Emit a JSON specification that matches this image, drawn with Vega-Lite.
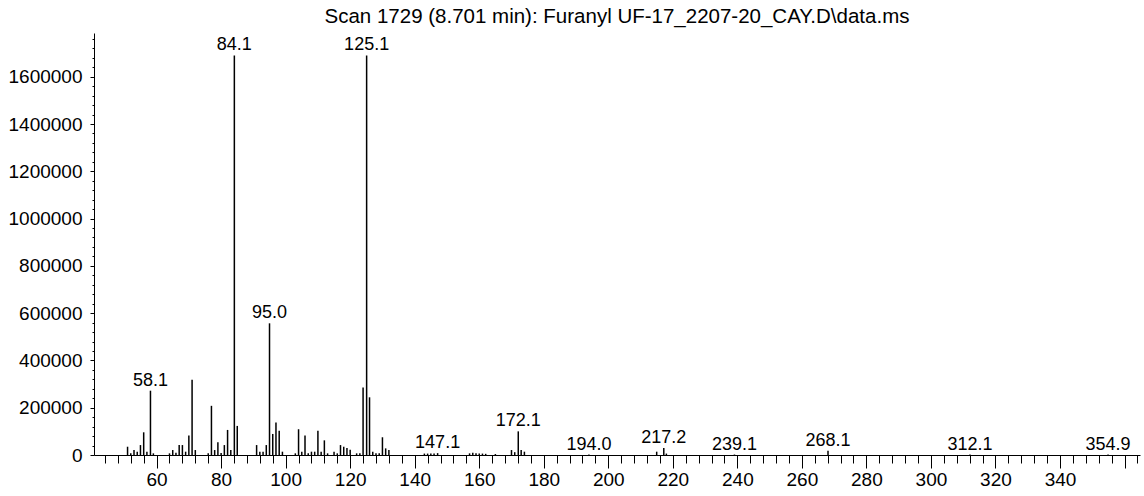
{
  "$schema": "https://vega.github.io/schema/vega-lite/v6.json",
  "width": 1046,
  "height": 422,
  "autosize": "none",
  "padding": {"left": 94, "top": 33, "right": 4, "bottom": 41},
  "background": "white",
  "title": {
    "text": "Scan 1729 (8.701 min): Furanyl UF-17_2207-20_CAY.D\\data.ms",
    "font": "Liberation Sans",
    "fontSize": 20.5,
    "fontWeight": "normal",
    "color": "black",
    "anchor": "middle",
    "offset": 6
  },
  "config": {
    "view": {"stroke": null},
    "axis": {
      "labelFont": "Liberation Sans",
      "labelFontSize": 19,
      "labelColor": "black",
      "tickColor": "black",
      "domainColor": "black",
      "tickWidth": 1,
      "domainWidth": 1,
      "grid": false,
      "title": null
    }
  },
  "data": {
    "values": [
      {"mz": 51, "intensity": 35000, "label": ""},
      {"mz": 52, "intensity": 7000, "label": ""},
      {"mz": 53, "intensity": 21000, "label": ""},
      {"mz": 54, "intensity": 14000, "label": ""},
      {"mz": 55, "intensity": 42000, "label": ""},
      {"mz": 56, "intensity": 96000, "label": ""},
      {"mz": 57, "intensity": 14000, "label": ""},
      {"mz": 58.1, "intensity": 272000, "label": "58.1"},
      {"mz": 59, "intensity": 7000, "label": ""},
      {"mz": 64, "intensity": 7000, "label": ""},
      {"mz": 65, "intensity": 21000, "label": ""},
      {"mz": 66, "intensity": 10000, "label": ""},
      {"mz": 67, "intensity": 42000, "label": ""},
      {"mz": 68, "intensity": 42000, "label": ""},
      {"mz": 69, "intensity": 14000, "label": ""},
      {"mz": 70, "intensity": 82000, "label": ""},
      {"mz": 71, "intensity": 318000, "label": ""},
      {"mz": 72, "intensity": 21000, "label": ""},
      {"mz": 76, "intensity": 7000, "label": ""},
      {"mz": 77, "intensity": 208000, "label": ""},
      {"mz": 78, "intensity": 21000, "label": ""},
      {"mz": 79, "intensity": 54000, "label": ""},
      {"mz": 80, "intensity": 8000, "label": ""},
      {"mz": 81, "intensity": 42000, "label": ""},
      {"mz": 82, "intensity": 106000, "label": ""},
      {"mz": 83, "intensity": 21000, "label": ""},
      {"mz": 84.1, "intensity": 1690000, "label": "84.1"},
      {"mz": 85, "intensity": 123000, "label": ""},
      {"mz": 91, "intensity": 42000, "label": ""},
      {"mz": 92, "intensity": 14000, "label": ""},
      {"mz": 93, "intensity": 14000, "label": ""},
      {"mz": 94, "intensity": 42000, "label": ""},
      {"mz": 95.0, "intensity": 557000, "label": "95.0"},
      {"mz": 96, "intensity": 89000, "label": ""},
      {"mz": 97, "intensity": 137000, "label": ""},
      {"mz": 98, "intensity": 103000, "label": ""},
      {"mz": 99, "intensity": 14000, "label": ""},
      {"mz": 103, "intensity": 7000, "label": ""},
      {"mz": 104, "intensity": 109000, "label": ""},
      {"mz": 105, "intensity": 14000, "label": ""},
      {"mz": 106, "intensity": 82000, "label": ""},
      {"mz": 107, "intensity": 7000, "label": ""},
      {"mz": 108, "intensity": 14000, "label": ""},
      {"mz": 109, "intensity": 14000, "label": ""},
      {"mz": 110, "intensity": 103000, "label": ""},
      {"mz": 111, "intensity": 14000, "label": ""},
      {"mz": 112, "intensity": 62000, "label": ""},
      {"mz": 113, "intensity": 7000, "label": ""},
      {"mz": 115, "intensity": 14000, "label": ""},
      {"mz": 116, "intensity": 7000, "label": ""},
      {"mz": 117, "intensity": 42000, "label": ""},
      {"mz": 118, "intensity": 35000, "label": ""},
      {"mz": 119, "intensity": 30000, "label": ""},
      {"mz": 120, "intensity": 22000, "label": ""},
      {"mz": 122, "intensity": 7000, "label": ""},
      {"mz": 123, "intensity": 7000, "label": ""},
      {"mz": 124, "intensity": 286000, "label": ""},
      {"mz": 125.1, "intensity": 1690000, "label": "125.1"},
      {"mz": 126, "intensity": 244000, "label": ""},
      {"mz": 127, "intensity": 14000, "label": ""},
      {"mz": 128, "intensity": 7000, "label": ""},
      {"mz": 129, "intensity": 7000, "label": ""},
      {"mz": 130, "intensity": 75000, "label": ""},
      {"mz": 131, "intensity": 28000, "label": ""},
      {"mz": 132, "intensity": 21000, "label": ""},
      {"mz": 143, "intensity": 6000, "label": ""},
      {"mz": 144, "intensity": 6000, "label": ""},
      {"mz": 145, "intensity": 6000, "label": ""},
      {"mz": 146, "intensity": 6000, "label": ""},
      {"mz": 147.1, "intensity": 8000, "label": "147.1"},
      {"mz": 157, "intensity": 7000, "label": ""},
      {"mz": 158, "intensity": 10000, "label": ""},
      {"mz": 159, "intensity": 7000, "label": ""},
      {"mz": 160, "intensity": 6000, "label": ""},
      {"mz": 161, "intensity": 6000, "label": ""},
      {"mz": 162, "intensity": 5000, "label": ""},
      {"mz": 165, "intensity": 4000, "label": ""},
      {"mz": 170, "intensity": 21000, "label": ""},
      {"mz": 171, "intensity": 12000, "label": ""},
      {"mz": 172.1, "intensity": 100000, "label": "172.1"},
      {"mz": 173, "intensity": 21000, "label": ""},
      {"mz": 174, "intensity": 14000, "label": ""},
      {"mz": 194.0, "intensity": 2000, "label": "194.0"},
      {"mz": 215, "intensity": 14000, "label": ""},
      {"mz": 217.2, "intensity": 30000, "label": "217.2"},
      {"mz": 218, "intensity": 6000, "label": ""},
      {"mz": 239.1, "intensity": 2000, "label": "239.1"},
      {"mz": 268.1, "intensity": 18000, "label": "268.1"},
      {"mz": 312.1, "intensity": 2000, "label": "312.1"},
      {"mz": 354.9, "intensity": 2000, "label": "354.9"}
    ]
  },
  "resolve": {"axis": {"x": "independent", "y": "independent"}},
  "layer": [
    {
      "mark": {"type": "rule", "color": "black", "strokeWidth": 1.5},
      "encoding": {
        "x": {
          "field": "mz",
          "type": "quantitative",
          "scale": {"domain": [40.6, 364.8], "nice": false, "zero": false},
          "axis": {
            "orient": "bottom",
            "values": [60, 80, 100, 120, 140, 160, 180, 200, 220, 240, 260, 280, 300, 320, 340, 360],
            "labelExpr": "datum.value == 360 ? '' : datum.label",
            "tickSize": 13,
            "labelPadding": 2,
            "labelFlush": false,
            "labelOverlap": false
          }
        },
        "y": {
          "field": "intensity",
          "type": "quantitative",
          "scale": {"domain": [0, 1785000], "nice": false},
          "axis": {
            "orient": "left",
            "values": [0, 200000, 400000, 600000, 800000, 1000000, 1200000, 1400000, 1600000],
            "format": "d",
            "tickSize": 4,
            "labelPadding": 8,
            "labelFlush": false,
            "labelOverlap": false
          }
        },
        "y2": {"datum": 0}
      }
    },
    {
      "transform": [{"filter": "datum.label != ''"}],
      "mark": {"type": "text", "font": "Liberation Sans", "fontSize": 18, "color": "black", "align": "center", "baseline": "alphabetic", "dy": -5},
      "encoding": {
        "x": {
          "field": "mz",
          "type": "quantitative",
          "axis": {
            "orient": "bottom",
            "values": [44, 48, 52, 56, 64, 68, 72, 76, 84, 88, 92, 96, 104, 108, 112, 116, 124, 128, 132, 136, 144, 148, 152, 156, 164, 168, 172, 176, 184, 188, 192, 196, 204, 208, 212, 216, 224, 228, 232, 236, 244, 248, 252, 256, 264, 268, 272, 276, 284, 288, 292, 296, 304, 308, 312, 316, 324, 328, 332, 336, 344, 348, 352, 356, 364],
            "tickSize": 8,
            "labels": false,
            "domain": false
          }
        },
        "y": {
          "field": "intensity",
          "type": "quantitative",
          "axis": {
            "orient": "left",
            "values": [40000, 80000, 120000, 160000, 240000, 280000, 320000, 360000, 440000, 480000, 520000, 560000, 640000, 680000, 720000, 760000, 840000, 880000, 920000, 960000, 1040000, 1080000, 1120000, 1160000, 1240000, 1280000, 1320000, 1360000, 1440000, 1480000, 1520000, 1560000, 1640000, 1680000, 1720000, 1760000],
            "tickSize": 2,
            "labels": false,
            "domain": false
          }
        },
        "text": {"field": "label", "type": "nominal"}
      }
    }
  ]
}
